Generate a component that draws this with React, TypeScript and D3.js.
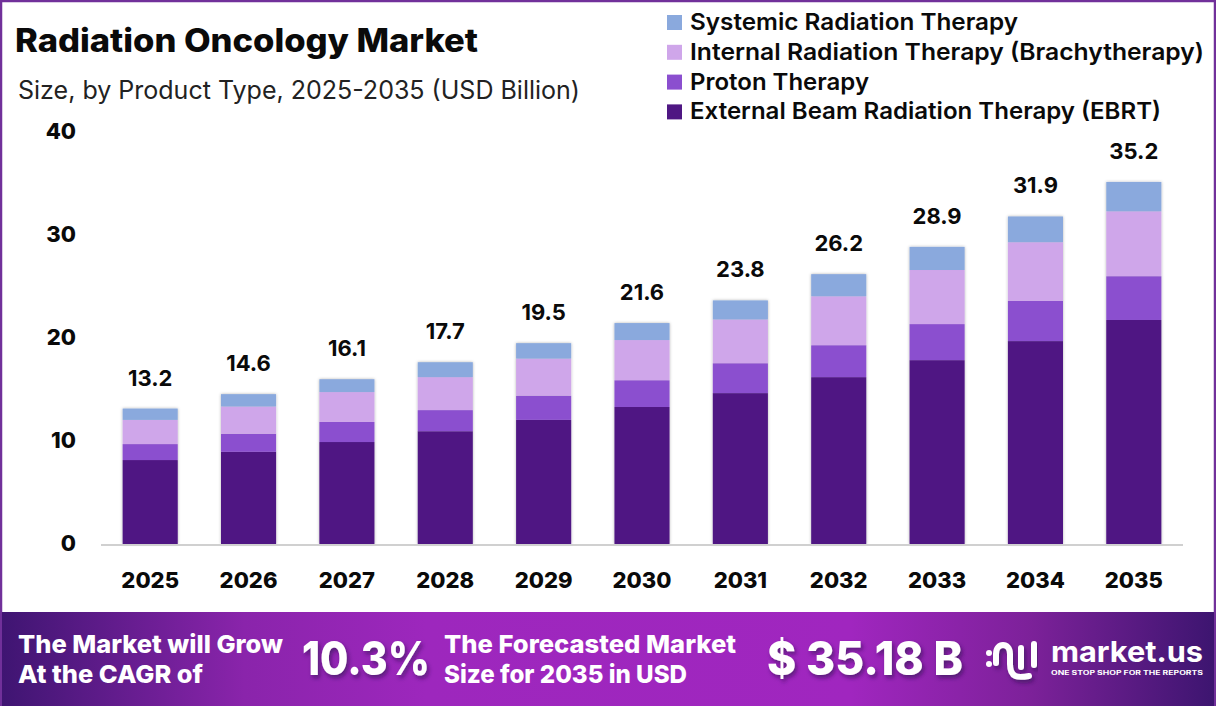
import { useMemo } from 'react';
import * as d3 from 'd3';

const WIDTH = 1216;
const HEIGHT = 706;
const FONT = 'Inter, Roboto, sans-serif';

const years = ['2025', '2026', '2027', '2028', '2029', '2030', '2031', '2032', '2033', '2034', '2035'];
const ebrt = [8.15, 8.95, 9.9, 10.95, 12.05, 13.3, 14.65, 16.2, 17.85, 19.7, 21.75];
const proton = [1.55, 1.75, 1.95, 2.05, 2.35, 2.6, 2.9, 3.1, 3.5, 3.9, 4.25];
const internal = [2.35, 2.65, 2.9, 3.2, 3.6, 3.9, 4.25, 4.75, 5.25, 5.7, 6.3];
const systemic = [1.1, 1.2, 1.25, 1.45, 1.5, 1.65, 1.85, 2.15, 2.25, 2.5, 2.85];
const totals = ['13.2', '14.6', '16.1', '17.7', '19.5', '21.6', '23.8', '26.2', '28.9', '31.9', '35.2'];
const yTicks = [0, 10, 20, 30, 40];

const seriesKeys = ['ebrt', 'proton', 'internal', 'systemic'];
const colors = ['#4f1783', '#8b4fcf', '#cfa6ea', '#8aa9dd'];
const legendLabels = [
  'Systemic Radiation Therapy',
  'Internal Radiation Therapy (Brachytherapy)',
  'Proton Therapy',
  'External Beam Radiation Therapy (EBRT)',
];
const legendColors = ['#8aa9dd', '#cfa6ea', '#8b4fcf', '#4f1783'];
const legendWidths = [328, 514, 179, 471];

// text helper, textLength keeps the widths of the original font
function Label({ x, y, w, size, weight = 600, fill = '#0a0a0a', anchor = 'start', filter, children }: any) {
  return (
    <text
      x={x}
      y={y}
      fontSize={size}
      fontWeight={weight}
      fill={fill}
      textAnchor={anchor}
      filter={filter}
      fontFamily={FONT}
      textLength={w}
      lengthAdjust={w ? 'spacingAndGlyphs' : undefined}
    >
      {children}
    </text>
  );
}

export default function App() {
  const x = d3.scaleBand<string>().domain(years).range([101, 1183]).paddingInner(0.44).paddingOuter(0.22);
  const y = d3.scaleLinear().domain([0, 40]).range([544, 132]);

  const stacked = useMemo(() => {
    const rows = years.map((year, i) => ({
      year,
      ebrt: ebrt[i],
      proton: proton[i],
      internal: internal[i],
      systemic: systemic[i],
    }));
    return d3.stack<any>().keys(seriesKeys)(rows);
  }, []);

  return (
    <svg
      width={WIDTH}
      height={HEIGHT}
      viewBox={`0 0 ${WIDTH} ${HEIGHT}`}
      style={{ position: 'fixed', left: 0, top: 0, background: '#fff' }}
    >
      <defs>
        <linearGradient id="banner" x1="0" x2="1" y1="0" y2="0">
          <stop offset="0" stopColor="#3f1572" />
          <stop offset="0.2" stopColor="#8a24ab" />
          <stop offset="0.35" stopColor="#9d27bd" />
          <stop offset="0.7" stopColor="#a026bf" />
          <stop offset="0.85" stopColor="#7c2199" />
          <stop offset="1" stopColor="#3d1570" />
        </linearGradient>
        <filter id="barShadow" x="-10%" y="-5%" width="120%" height="110%">
          <feDropShadow dx="0" dy="0" stdDeviation="1.5" floodColor="#000" floodOpacity="0.3" />
        </filter>
        <filter id="textShadow" x="-10%" y="-20%" width="120%" height="150%">
          <feDropShadow dx="2" dy="3" stdDeviation="2" floodColor="#2a0a50" floodOpacity="0.6" />
        </filter>
      </defs>

      {/* frame */}
      <rect x={1} y={1} width={WIDTH - 2} height={HEIGHT - 2} fill="none" stroke="#71309a" strokeWidth={2.5} />

      <Label x={15} y={52} w={463} size={32} weight={800}>Radiation Oncology Market</Label>
      <Label x={18} y={99} w={562} size={25} weight={400} fill="#222">Size, by Product Type, 2025-2035 (USD Billion)</Label>

      {/* legend */}
      {legendLabels.map((name, i) => (
        <g key={name}>
          <rect x={667} y={15 + i * 29.8} width={15} height={15} fill={legendColors[i]} />
          <Label x={690} y={30 + i * 29.8} w={legendWidths[i]} size={23.5} weight={600}>{name}</Label>
        </g>
      ))}

      {/* y axis */}
      {yTicks.map((t) => (
        <Label key={t} x={76} y={y(t) + 6.5} size={22} weight={800} anchor="end">{t}</Label>
      ))}

      {/* bars */}
      <g filter="url(#barShadow)">
        {stacked.map((layer, s) => (
          <g key={layer.key} fill={colors[s]}>
            {layer.map((d, i) => (
              <rect
                key={years[i]}
                x={x(years[i])}
                y={y(d[1])}
                width={x.bandwidth()}
                height={y(d[0]) - y(d[1])}
              />
            ))}
          </g>
        ))}
      </g>

      <line x1={101} x2={1183} y1={545} y2={545} stroke="#d0d0d0" strokeWidth={2} />

      {/* totals and years */}
      {years.map((year, i) => {
        const cx = x(year)! + x.bandwidth() / 2;
        const top = stacked[3][i][1];
        return (
          <g key={year}>
            <Label x={cx} y={y(top) - 23} size={22} weight={700} anchor="middle">{totals[i]}</Label>
            <Label x={cx} y={588} size={22} weight={800} anchor="middle">{year}</Label>
          </g>
        );
      })}

      {/* banner */}
      <rect x={2} y={612} width={WIDTH - 4} height={HEIGHT - 612} fill="url(#banner)" />
      <Label x={18} y={653} w={265} size={25} weight={800} fill="#fff">The Market will Grow</Label>
      <Label x={18} y={683} w={185} size={25} weight={800} fill="#fff">At the CAGR of</Label>
      <Label x={302} y={675} w={128} size={46} weight={800} fill="#fff" filter="url(#textShadow)">10.3%</Label>
      <Label x={444} y={653} w={292} size={25} weight={800} fill="#fff">The Forecasted Market</Label>
      <Label x={444} y={683} w={243} size={25} weight={800} fill="#fff">Size for 2035 in USD</Label>
      <Label x={767} y={675} w={196} size={46} weight={800} fill="#fff" filter="url(#textShadow)">$ 35.18 B</Label>

      {/* logo */}
      <g fill="none" stroke="#fff" strokeWidth={6} strokeLinecap="round" filter="url(#textShadow)">
        <path d="M996 663 L996 654 C996 642 1010 642 1010 654 L1010 664 C1010 678 1018 678 1029 676" />
        <path d="M1021 648 L1021 667" />
        <path d="M1034 644 L1034 665" />
      </g>
      <circle cx={989} cy={653} r={3} fill="#fff" />
      <circle cx={989} cy={664} r={3} fill="#fff" />
      <Label x={1051} y={662} w={152} size={29} weight={700} fill="#fff">market.us</Label>
      <Label x={1051} y={675} w={152} size={5.5} weight={700} fill="#fff">ONE STOP SHOP FOR THE REPORTS</Label>
    </svg>
  );
}
